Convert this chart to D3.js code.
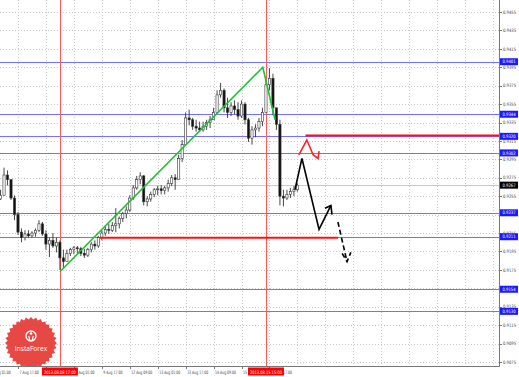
<!DOCTYPE html>
<html><head><meta charset="utf-8">
<script src="https://cdn.jsdelivr.net/npm/d3@7"></script>
<style>html,body{margin:0;padding:0;background:#fff;overflow:hidden}</style>
</head><body>
<svg id="c" width="519" height="377" xmlns="http://www.w3.org/2000/svg"></svg>
<script>
// ---- data (2-hour slots) ----
const firstOpen = 0.9252;
const highs = [0.9262,0.9286,0.9283,0.9273,0.9256,0.9238,0.9220,0.9218,0.9218,0.9217,
  0.9220,0.9229,0.9227,0.9218,0.9210,0.9215,0.9210,0.9207,0.9197,0.9197,
  0.9199,0.9201,0.9201,0.9200,0.9198,0.9199,0.9205,0.9207,0.9212,0.9218,
  0.9223,0.9225,0.9227,0.9242,0.9233,0.9238,0.9244,0.9256,0.9267,0.9277,
  0.9281,0.9278,0.9255,0.9260,0.9264,0.9266,0.9267,0.9266,0.9273,0.9278,
  0.9279,0.9300,0.9316,0.9346,0.9349,0.9340,0.9338,0.9336,0.9336,0.9338,
  0.9342,0.9351,0.9370,0.9378,0.9372,0.9362,0.9357,0.9359,0.9357,0.9359,
  0.9357,0.9340,0.9331,0.9333,0.9340,0.9351,0.9381,0.9394,0.9388,0.9349,
  0.9338,0.9262,0.9262,0.9264,0.9266,0.9269];
const lows = [0.9251,0.9260,0.9267,0.9251,0.9229,0.9213,0.9205,0.9207,0.9210,0.9210,
  0.9211,0.9216,0.9212,0.9197,0.9189,0.9199,0.9194,0.9175,0.9177,0.9184,
  0.9190,0.9192,0.9193,0.9190,0.9188,0.9189,0.9194,0.9197,0.9199,0.9207,
  0.9212,0.9214,0.9216,0.9216,0.9220,0.9227,0.9231,0.9238,0.9251,0.9262,
  0.9268,0.9245,0.9244,0.9249,0.9254,0.9256,0.9257,0.9257,0.9260,0.9266,
  0.9262,0.9273,0.9292,0.9311,0.9332,0.9327,0.9325,0.9325,0.9325,0.9327,
  0.9329,0.9338,0.9346,0.9362,0.9346,0.9340,0.9342,0.9344,0.9338,0.9340,
  0.9333,0.9314,0.9311,0.9319,0.9325,0.9331,0.9346,0.9370,0.9343,0.9327,
  0.9245,0.9244,0.9251,0.9253,0.9255,0.9260];
const closes = [0.9256,0.9278,0.9273,0.9253,0.9235,0.9216,0.9210,0.9214,0.9212,0.9215,
  0.9218,0.9225,0.9214,0.9203,0.9207,0.9201,0.9205,0.9188,0.9184,0.9193,
  0.9197,0.9199,0.9198,0.9193,0.9191,0.9197,0.9203,0.9201,0.9210,0.9215,
  0.9219,0.9218,0.9223,0.9225,0.9231,0.9236,0.9240,0.9253,0.9264,0.9273,
  0.9277,0.9249,0.9252,0.9257,0.9262,0.9263,0.9261,0.9264,0.9269,0.9275,
  0.9273,0.9296,0.9311,0.9340,0.9338,0.9331,0.9329,0.9327,0.9331,0.9335,
  0.9338,0.9346,0.9365,0.9370,0.9351,0.9346,0.9353,0.9349,0.9342,0.9355,
  0.9338,0.9318,0.9327,0.9329,0.9336,0.9346,0.9376,0.9383,0.9351,0.9333,
  0.9255,0.9253,0.9257,0.9260,0.9262,0.9267];

const timeTickSlots = [-3,5,13,21,29,37,45,53,61,69,77];
const timeTickLabels = ["7 Aug 01:00","7 Aug 17:00","8 Aug 09:00","9 Aug 01:00","9 Aug 17:00",
  "12 Aug 09:00","13 Aug 01:00","13 Aug 17:00","14 Aug 09:00","15 Aug 01:00","15 Aug 17:00"];
const priceTicks = [0.9455,0.9435,0.9415,0.9395,0.9375,0.9355,0.9335,0.9315,0.9295,0.9275,
  0.9255,0.9235,0.9215,0.9195,0.9175,0.9155,0.9135,0.9115,0.9095,0.9075];
const blueLevels = [0.9401,0.9344,0.9320,0.9302,0.9237,0.9211,0.9154,0.9130];
const bidPrice = 0.9267;
const markerSlots = [17,76];
const markerLabels = ["2013.08.08 17:00","2013.08.15 15:00"];
const redLevelA = [[87.3,0.9321],[160,0.9321]];
const redLevelB = [[28.5,0.9210],[96.6,0.9210]];
const greenTrend = [[17.0,0.9173],[75.1,0.9395],[78.6,0.9338]];
const forecastSolid = [[84.3,0.9262],[86.3,0.9296],[91.2,0.9219],[94.6,0.9245]];
const forecastSolidHead = [[92.9,0.9242],[94.6,0.9245],[94.9,0.9235]];
const forecastDashed = [[96.6,0.9227],[99.2,0.9184]];
const forecastDashedHead = [[97.8,0.9193],[99.2,0.9184],[100.3,0.9194]];
const redArrow = [[85.4,0.9300],[87.7,0.9316],[89.5,0.9300],[90.9,0.9296],[91.2,0.9304]];

// ---- scales ----
const W = 519, H = 377, plotR = 499, plotB = 366;
const x = d3.scaleLinear().domain([0,85]).range([0.54,297.4]);
const y = d3.scaleLinear().domain([0.9075,0.9455]).range([362,12]);
const svg = d3.select("#c");
const font = "Tahoma, 'DejaVu Sans', sans-serif";

svg.append("rect").attr("width",W).attr("height",H).attr("fill","#fff");
const plot = svg.append("g");

// grid
plot.selectAll(".hg").data(priceTicks).join("line")
  .attr("x1",0).attr("x2",plotR).attr("y1",d=>Math.round(y(d))+0.5).attr("y2",d=>Math.round(y(d))+0.5)
  .attr("stroke","#c8c8c8").attr("stroke-width",1).attr("stroke-dasharray","1,2");
const gridSlots = d3.range(-3, 150, 8).filter(s => x(s) > 0 && x(s) < plotR);
plot.selectAll(".vg").data(gridSlots).join("line")
  .attr("x1",d=>Math.round(x(d))+0.5).attr("x2",d=>Math.round(x(d))+0.5).attr("y1",0).attr("y2",plotB)
  .attr("stroke","#c8c8c8").attr("stroke-width",1).attr("stroke-dasharray","1,2");

// bid line
plot.append("line").attr("x1",0).attr("x2",plotR)
  .attr("y1",Math.round(y(bidPrice))+0.5).attr("y2",Math.round(y(bidPrice))+0.5)
  .attr("stroke","#c8c8c8").attr("stroke-width",1);

// blue levels
plot.selectAll(".bl").data(blueLevels).join("line")
  .attr("x1",0).attr("x2",plotR).attr("y1",d=>Math.round(y(d))+0.5).attr("y2",d=>Math.round(y(d))+0.5)
  .attr("stroke","#7272ff").attr("stroke-width",1);

// vertical markers
plot.selectAll(".vm").data(markerSlots).join("line")
  .attr("x1",d=>Math.round(x(d))+0.5).attr("x2",d=>Math.round(x(d))+0.5).attr("y1",0).attr("y2",plotB)
  .attr("stroke","#ff5a5a").attr("stroke-width",1);

// candles
const bars = highs.map((h,i)=>({i, h, l:lows[i], c:closes[i], o: i===0 ? firstOpen : closes[i-1]}));
const cg = plot.append("g");
cg.selectAll("line").data(bars).join("line")
  .attr("x1",d=>x(d.i)).attr("x2",d=>x(d.i)).attr("y1",d=>y(d.h)).attr("y2",d=>y(d.l))
  .attr("stroke","#333").attr("stroke-width",0.9);
cg.selectAll("rect").data(bars).join("rect")
  .attr("x",d=>x(d.i)-1.1).attr("width",2.2)
  .attr("y",d=>y(Math.max(d.o,d.c))).attr("height",d=>Math.max(0.8, Math.abs(y(d.o)-y(d.c))))
  .attr("fill",d=>d.c>=d.o ? "#fff" : "#111").attr("stroke","#333").attr("stroke-width",0.6);

const line = d3.line().x(d=>x(d[0])).y(d=>y(d[1]));

// red levels
plot.append("path").attr("d",line([[redLevelA[0][0],redLevelA[0][1]],[x.invert(plotR),redLevelA[1][1]]]))
  .attr("stroke","#ff1010").attr("stroke-width",2).attr("fill","none");
plot.append("path").attr("d",line(redLevelB)).attr("stroke","#ff1010").attr("stroke-width",2).attr("fill","none");

// green trend
plot.append("path").attr("d",line(greenTrend)).attr("stroke","#1fbf3a").attr("stroke-width",1.6).attr("fill","none");

// forecasts
plot.append("path").attr("d",line(forecastSolid)).attr("stroke","#000").attr("stroke-width",1.6).attr("fill","none");
plot.append("path").attr("d",line(forecastSolidHead)).attr("stroke","#000").attr("stroke-width",1.6).attr("fill","none");
plot.append("path").attr("d",line(forecastDashed)).attr("stroke","#000").attr("stroke-width",1.6).attr("fill","none").attr("stroke-dasharray","5,3");
plot.append("path").attr("d",line(forecastDashedHead)).attr("stroke","#000").attr("stroke-width",1.6).attr("fill","none").attr("stroke-dasharray","5,3");
plot.append("path").attr("d",line(redArrow)).attr("stroke","#ff2020").attr("stroke-width",1.6).attr("fill","none");

// logo badge
const cx = 31, cy = 343, teeth = 32;
const pts = d3.range(teeth*2).map(k => {
  const a = k*Math.PI/teeth; const r = k%2===0 ? 26 : 23.5;
  return [cx + r*Math.cos(a), cy + r*Math.sin(a)];
});
const logo = svg.append("g").attr("opacity",0.92);
logo.append("polygon").attr("points",pts.map(p=>p.join(",")).join(" ")).attr("fill","#e53935");
logo.append("circle").attr("cx",cx).attr("cy",cy-7).attr("r",5).attr("fill","none").attr("stroke","#fff").attr("stroke-width",1.4);
logo.append("circle").attr("cx",cx).attr("cy",cy-9.5).attr("r",1.3).attr("fill","#fff");
logo.append("path").attr("d",`M${cx-2.2},${cy-7} L${cx-1.2},${cy-2.5} M${cx+2.2},${cy-7} L${cx+1.2},${cy-2.5}`).attr("stroke","#fff").attr("stroke-width",1.2);
logo.append("text").attr("x",cx).attr("y",cy+8).attr("text-anchor","middle")
  .attr("font-family","'Open Sans', 'DejaVu Sans', sans-serif").attr("font-size",6.6).attr("fill","#fff").text("InstaForex");

// axes frame
svg.append("rect").attr("x",plotR).attr("y",0).attr("width",W-plotR).attr("height",H).attr("fill","#fff");
svg.append("rect").attr("x",0).attr("y",plotB).attr("width",W).attr("height",H-plotB).attr("fill","#fff");
svg.append("line").attr("x1",plotR+0.5).attr("x2",plotR+0.5).attr("y1",0).attr("y2",plotB+0.5).attr("stroke","#777");
svg.append("line").attr("x1",0).attr("x2",plotR+0.5).attr("y1",plotB+0.5).attr("y2",plotB+0.5).attr("stroke","#777");

// right axis ticks and labels
const ra = svg.append("g");
ra.selectAll("line").data(priceTicks).join("line")
  .attr("x1",plotR).attr("x2",plotR+3).attr("y1",d=>Math.round(y(d))+0.5).attr("y2",d=>Math.round(y(d))+0.5).attr("stroke","#777");
ra.selectAll("text").data(priceTicks).join("text")
  .attr("x",plotR+4).attr("y",d=>y(d)+1.7).attr("font-family",font).attr("font-size",4.6).attr("fill","#444")
  .attr("textLength",13).attr("lengthAdjust","spacingAndGlyphs")
  .text(d=>d.toFixed(4));
const bl = svg.append("g");
bl.selectAll("rect").data(blueLevels).join("rect")
  .attr("x",plotR+1).attr("y",d=>y(d)-3.5).attr("width",18).attr("height",7).attr("fill","#1a1aff");
bl.selectAll("text").data(blueLevels).join("text")
  .attr("x",plotR+3.5).attr("y",d=>y(d)+1.7).attr("font-family",font).attr("font-size",4.6).attr("fill","#fff")
  .attr("textLength",13).attr("lengthAdjust","spacingAndGlyphs")
  .text(d=>d.toFixed(4));
svg.append("rect").attr("x",plotR+1).attr("y",y(bidPrice)-3.5).attr("width",18).attr("height",7).attr("fill","#000");
svg.append("text").attr("x",plotR+3.5).attr("y",y(bidPrice)+1.7).attr("font-family",font).attr("font-size",4.6).attr("fill","#fff")
  .attr("textLength",13).attr("lengthAdjust","spacingAndGlyphs").text(bidPrice.toFixed(4));

// bottom axis
const ba = svg.append("g");
ba.selectAll("line").data(timeTickSlots).join("line")
  .attr("x1",d=>Math.round(x(d))+0.5).attr("x2",d=>Math.round(x(d))+0.5).attr("y1",plotB).attr("y2",plotB+3).attr("stroke","#777");
ba.selectAll("text").data(timeTickSlots).join("text")
  .attr("x",d=>x(d)+1.5).attr("y",374).attr("font-family",font).attr("font-size",4.6).attr("fill","#444")
  .attr("textLength",(d,i)=>timeTickLabels[i].length*1.75).attr("lengthAdjust","spacingAndGlyphs")
  .text((d,i)=>timeTickLabels[i]);
const mk = svg.append("g");
mk.selectAll("rect").data(markerSlots).join("rect")
  .attr("x",d=>x(d)-18).attr("y",plotB+1.5).attr("width",36).attr("height",8).attr("fill","#ff0000");
mk.selectAll("text").data(markerSlots).join("text")
  .attr("x",d=>x(d)-16).attr("y",374).attr("font-family",font).attr("font-size",4.6).attr("fill","#fff")
  .attr("textLength",32).attr("lengthAdjust","spacingAndGlyphs")
  .text((d,i)=>markerLabels[i]);
</script>
</body></html>
